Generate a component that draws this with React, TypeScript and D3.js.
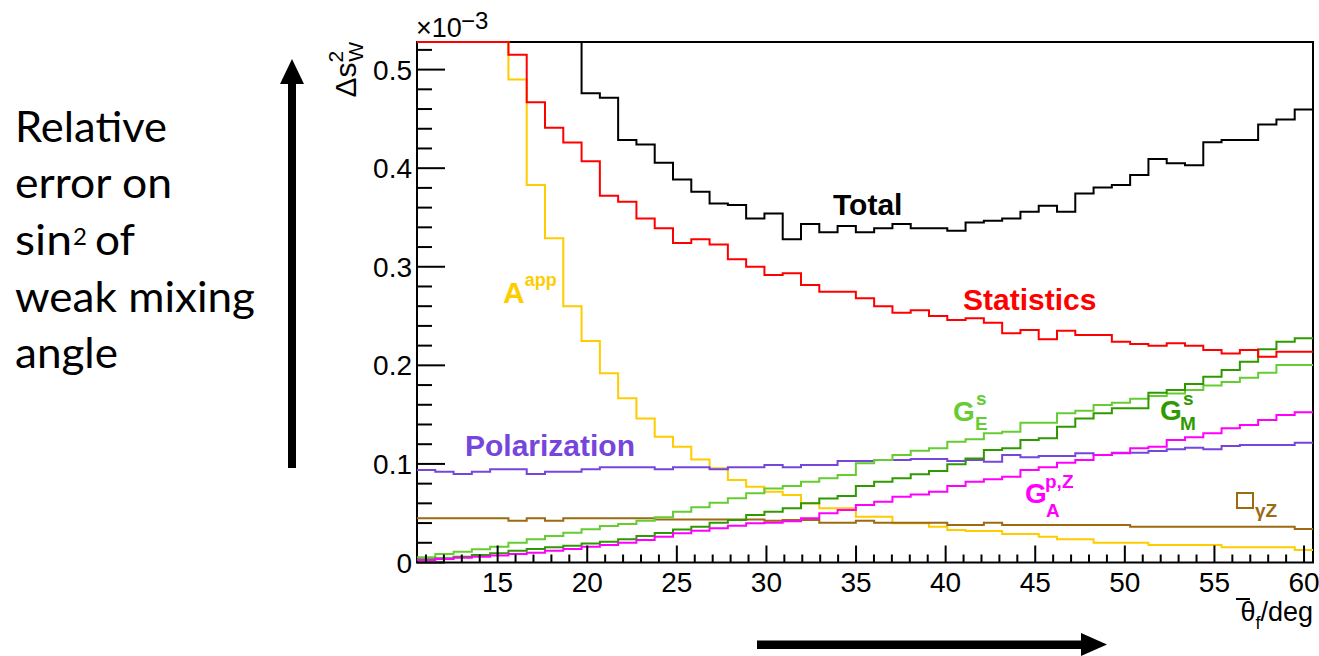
import React from 'react';
import * as d3 from 'd3';

// x axis: theta_f in degrees, 49 equal bins between 10.5 and 60.5
const X_MIN = 10.5;
const X_MAX = 60.5;
const N_BINS = 49;
const Y_MAX = 0.528; // (x 1e-3)

const X_TICK_LABELS = ['15', '20', '25', '30', '35', '40', '45', '50', '55', '60'];
const Y_TICK_LABELS = ['0', '0.1', '0.2', '0.3', '0.4', '0.5'];

const TOTAL = [0.95, 0.85, 0.78, 0.71, 0.66, 0.62, 0.58, 0.555, 0.535,
  0.476, 0.4714, 0.4285, 0.424,
  0.4055, 0.3886, 0.376, 0.3643, 0.3626, 0.349, 0.354, 0.328, 0.3433, 0.335, 0.3413, 0.335, 0.339, 0.3433, 0.339, 0.339, 0.3366, 0.345,
  0.3467, 0.349, 0.3558, 0.3619, 0.3558, 0.3744, 0.3805, 0.3829, 0.393, 0.4092, 0.4049, 0.4031, 0.4262, 0.4285, 0.4285, 0.4444, 0.4495, 0.4596];

const STATISTICS = [0.75, 0.68, 0.63, 0.58, 0.545,
  0.515, 0.467, 0.441, 0.426, 0.407, 0.372, 0.366, 0.349,
  0.339, 0.324, 0.328, 0.3227, 0.3075, 0.300, 0.2916, 0.2933, 0.2814, 0.2746, 0.2746, 0.268, 0.260, 0.2534, 0.256, 0.250, 0.246, 0.2477,
  0.2432, 0.2325, 0.2358, 0.2264, 0.2351, 0.2307, 0.2307, 0.224, 0.2216, 0.220, 0.2223, 0.220, 0.2155, 0.212, 0.2155, 0.2087, 0.2138, 0.2138];

const A_APP = [1.3, 1.05, 0.85, 0.7, 0.58,
  0.490, 0.383, 0.329, 0.260, 0.2247, 0.192, 0.1665, 0.146,
  0.1276, 0.1174, 0.1046, 0.0955, 0.0837, 0.0769, 0.0718, 0.0685, 0.060, 0.055, 0.055, 0.0465, 0.0465, 0.0398, 0.0398, 0.0363, 0.033, 0.032,
  0.032, 0.0289, 0.0289, 0.026, 0.0235, 0.0235, 0.020, 0.020, 0.020, 0.0178, 0.0178, 0.0178, 0.0178, 0.0154, 0.0154, 0.0154, 0.0154, 0.0127];

const POLARIZATION = [0.0938, 0.0921, 0.0898, 0.0921, 0.0945, 0.0945, 0.0898, 0.0921, 0.0921, 0.0945,
  0.0965, 0.0965, 0.0965, 0.0945, 0.0965, 0.0965, 0.0945, 0.0965, 0.0965, 0.0989,
  0.0965, 0.0989, 0.0989, 0.1029, 0.1029, 0.104, 0.104, 0.105, 0.105, 0.1029,
  0.104, 0.1023, 0.109, 0.1067, 0.108, 0.108, 0.1107, 0.109, 0.1114, 0.1114,
  0.1131, 0.1148, 0.1165, 0.1148, 0.1182, 0.1192, 0.1192, 0.1192, 0.1215];

const BOX_GZ = [0.0448, 0.0448, 0.0448, 0.0448, 0.0448, 0.0424, 0.0448, 0.0424, 0.0448, 0.0448,
  0.0448, 0.0448, 0.0448, 0.0435, 0.0435, 0.0435, 0.0435, 0.0435, 0.0435, 0.0424,
  0.0431, 0.0431, 0.0404, 0.0404, 0.0424, 0.0404, 0.0404, 0.0404, 0.0404, 0.038,
  0.038, 0.0404, 0.038, 0.038, 0.038, 0.038, 0.038, 0.038, 0.038, 0.0363,
  0.0363, 0.0363, 0.0363, 0.0363, 0.0363, 0.0363, 0.0363, 0.0363, 0.034];

const GE_S = [0.0053, 0.0086, 0.011, 0.0134, 0.016, 0.020, 0.0235, 0.0269, 0.0302, 0.0337,
  0.037, 0.039, 0.0424, 0.0458, 0.0515, 0.056, 0.0606, 0.0651, 0.0702, 0.075,
  0.0776, 0.082, 0.0855, 0.0888, 0.1006, 0.104, 0.109, 0.1134, 0.1158, 0.1225,
  0.125, 0.131, 0.1327, 0.1418, 0.1418, 0.1513, 0.154, 0.1597, 0.162, 0.166,
  0.169, 0.1715, 0.175, 0.1795, 0.183, 0.1875, 0.1925, 0.2003, 0.2003];

const GM_S = [0.0032, 0.0042, 0.0059, 0.0076, 0.0093, 0.012, 0.0137, 0.0154, 0.0171, 0.0194,
  0.0211, 0.0235, 0.027, 0.030, 0.0335, 0.0363, 0.0404, 0.0431, 0.0482, 0.0516,
  0.055, 0.060, 0.065, 0.0674, 0.0776, 0.082, 0.0854, 0.0894, 0.0928, 0.0996,
  0.1056, 0.114, 0.116, 0.1242, 0.126, 0.1377, 0.1462, 0.1513, 0.1564, 0.1564,
  0.1722, 0.175, 0.181, 0.1885, 0.1952, 0.2037, 0.2162, 0.224, 0.2274];

const GA_PZ = [0.0025, 0.0035, 0.0049, 0.0059, 0.0072, 0.0086, 0.0099, 0.012, 0.0137, 0.016,
  0.0177, 0.020, 0.0227, 0.0262, 0.0296, 0.0323, 0.0347, 0.0374, 0.0397, 0.0404,
  0.0418, 0.0448, 0.0499, 0.0532, 0.0583, 0.0617, 0.0668, 0.0691, 0.0718, 0.0776,
  0.082, 0.0844, 0.087, 0.0938, 0.0965, 0.1012, 0.104, 0.109, 0.1107, 0.1158,
  0.1175, 0.1242, 0.127, 0.131, 0.1361, 0.1395, 0.1445, 0.1496, 0.1523];

const COLORS = {
  total: '#000000',
  stat: '#ff0000',
  aapp: '#ffcc00',
  pol: '#7646dc',
  box: '#9c6a10',
  ge: '#66cc33',
  gm: '#2f9a00',
  ga: '#ff00ff',
};

const SERIES = [
  { key: 'total', values: TOTAL, color: COLORS.total },
  { key: 'aapp', values: A_APP, color: COLORS.aapp },
  { key: 'pol', values: POLARIZATION, color: COLORS.pol },
  { key: 'box', values: BOX_GZ, color: COLORS.box },
  { key: 'ge', values: GE_S, color: COLORS.ge },
  { key: 'gm', values: GM_S, color: COLORS.gm },
  { key: 'ga', values: GA_PZ, color: COLORS.ga },
  { key: 'stat', values: STATISTICS, color: COLORS.stat },
];

const W = 1319;
const H = 656;
const PLOT = { left: 417, right: 1313, top: 42, bottom: 562.5 };
const NUM_FONT = "'Liberation Sans', Arial, Helvetica, sans-serif";
const TEXT_FONT = "Lato, 'Open Sans', sans-serif";

export default function App() {
  const x = d3.scaleLinear().domain([X_MIN, X_MAX]).range([PLOT.left, PLOT.right]);
  const y = d3.scaleLinear().domain([0, Y_MAX]).range([PLOT.bottom, PLOT.top]);
  const binW = (X_MAX - X_MIN) / N_BINS;

  const line = d3
    .line<[number, number]>()
    .x((d) => x(d[0]))
    .y((d) => y(Math.min(d[1], Y_MAX)))
    .curve(d3.curveStepAfter);

  const pathFor = (vals: number[]) => {
    const pts: [number, number][] = vals.map((v, i) => [X_MIN + i * binW, v]);
    pts.push([X_MAX, vals[vals.length - 1]]);
    return line(pts) || '';
  };

  const yMinor = d3.range(0, 0.5201, 0.02);
  const xMinor = d3.range(11, 61, 1);

  return (
    <svg width={W} height={H} style={{ position: 'absolute', left: 0, top: 0, background: '#fff' }}>
      <rect x={0} y={0} width={W} height={H} fill="#fff" />

      {/* left explanatory text */}
      <g fontFamily={TEXT_FONT} fontSize={42} fill="#000">
        <text x={15} y={142} textLength={152} lengthAdjust="spacingAndGlyphs">Relative</text>
        <text x={15} y={198} textLength={157} lengthAdjust="spacingAndGlyphs">error on</text>
        <text x={15} y={255} textLength={57} lengthAdjust="spacingAndGlyphs">sin</text>
        <text x={73} y={245} fontSize={24}>2</text>
        <text x={95} y={255} textLength={40} lengthAdjust="spacingAndGlyphs">of</text>
        <text x={15} y={312} textLength={240} lengthAdjust="spacingAndGlyphs">weak mixing</text>
        <text x={15} y={368} textLength={103} lengthAdjust="spacingAndGlyphs">angle</text>
      </g>

      {/* arrows */}
      <rect x={288} y={80} width={8} height={388} fill="#000" />
      <path d="M292,59 L304,84 L280,84 Z" fill="#000" />
      <rect x={757} y={640.5} width={328} height={8.5} fill="#000" />
      <path d="M1107,644.5 L1081,633 L1081,656 Z" fill="#000" />

      <defs>
        <clipPath id="plotclip">
          <rect x={PLOT.left} y={PLOT.top - 2} width={PLOT.right - PLOT.left} height={PLOT.bottom - PLOT.top + 4} />
        </clipPath>
      </defs>

      {/* frame */}
      <rect
        x={PLOT.left}
        y={PLOT.top}
        width={PLOT.right - PLOT.left}
        height={PLOT.bottom - PLOT.top}
        fill="none"
        stroke="#000"
        strokeWidth={2}
      />

      {/* histograms */}
      <g clipPath="url(#plotclip)" fill="none" strokeWidth={2}>
        {SERIES.map((s) => (
          <path key={s.key} d={pathFor(s.values)} stroke={s.color} />
        ))}
      </g>

      {/* ticks */}
      <g stroke="#000" strokeWidth={2}>
        {yMinor.map((v, i) => {
          const major = i % 5 === 0;
          return <line key={i} x1={PLOT.left} x2={PLOT.left + (major ? 28 : 15)} y1={y(v)} y2={y(v)} />;
        })}
        {xMinor.map((v) => {
          const major = v % 5 === 0;
          return <line key={v} x1={x(v)} x2={x(v)} y1={PLOT.bottom} y2={PLOT.bottom - (major ? 17 : 8)} />;
        })}
      </g>

      <g fontFamily={NUM_FONT} fontSize={28} fill="#000">
        {Y_TICK_LABELS.map((t) => (
          <text key={t} x={412} y={y(+t) + 10} textAnchor="end">
            {t}
          </text>
        ))}
        {X_TICK_LABELS.map((t) => (
          <text key={t} x={x(+t)} y={592} textAnchor="middle">
            {t}
          </text>
        ))}
      </g>

      {/* exponent */}
      <g fontFamily={NUM_FONT} fill="#000">
        <text x={416} y={37} fontSize={27}>
          ×10
        </text>
        <text x={461} y={29} fontSize={24}>
          −3
        </text>
      </g>

      {/* y title */}
      <g fontFamily={NUM_FONT} fill="#000" transform="translate(356,42) rotate(-90)">
        <text x={0} y={0} textAnchor="end" fontSize={30}>
          Δs
          <tspan fontSize={21} dy={-13}>2</tspan>
          <tspan fontSize={21} dx={-11} dy={20}>W</tspan>
        </text>
      </g>

      {/* x title */}
      <g fontFamily={NUM_FONT} fill="#000">
        <text x={1313} y={621} textAnchor="end" fontSize={27}>
          θ<tspan fontSize={18} dy={8}>f</tspan>
          <tspan dy={-8}>/deg</tspan>
        </text>
        <line x1={1236} x2={1250} y1={599} y2={599} stroke="#000" strokeWidth={2} />
      </g>

      {/* series labels */}
      <g fontFamily={NUM_FONT} fontWeight="bold">
        <text x={833} y={215} fontSize={30} fill={COLORS.total}>Total</text>
        <text x={963} y={310} fontSize={30} fill={COLORS.stat}>Statistics</text>
        <text x={465} y={456} fontSize={30} fill={COLORS.pol}>Polarization</text>
        <text x={503} y={303} fontSize={30} fill={COLORS.aapp}>
          A<tspan fontSize={18} dy={-17}>app</tspan>
        </text>

        <text x={953} y={421} fontSize={28} fill={COLORS.ge}>G</text>
        <text x={975} y={430} fontSize={19} fill={COLORS.ge}>E</text>
        <text x={976} y={405} fontSize={19} fill={COLORS.ge}>s</text>

        <text x={1160} y={420} fontSize={28} fill={COLORS.gm}>G</text>
        <text x={1180} y={430} fontSize={19} fill={COLORS.gm}>M</text>
        <text x={1183} y={405} fontSize={19} fill={COLORS.gm}>s</text>

        <text x={1025} y={503} fontSize={28} fill={COLORS.ga}>G</text>
        <text x={1046} y={517} fontSize={19} fill={COLORS.ga}>A</text>
        <text x={1045} y={488} fontSize={19} fill={COLORS.ga}>p,Z</text>

        <rect x={1237} y={493} width={16} height={15} fill="none" stroke={COLORS.box} strokeWidth={2} />
        <text x={1255} y={517} fontSize={19} fill={COLORS.box}>γZ</text>
      </g>
    </svg>
  );
}
